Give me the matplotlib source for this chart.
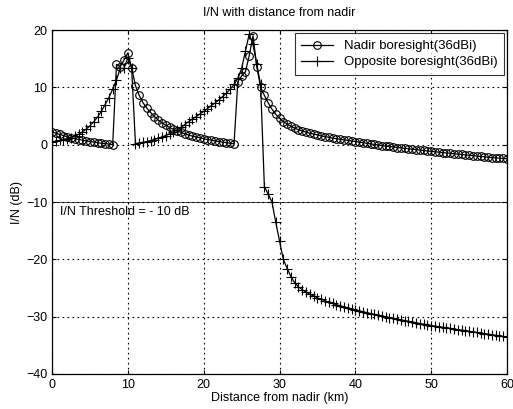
import numpy as np
import matplotlib
matplotlib.use("Agg")
import matplotlib.pyplot as plt

plt.rcParams['font.family'] = ['Liberation Sans', 'DejaVu Sans']

# distance samples (km), every 0.5 km from 0 to 60
distance = np.arange(0, 60.5, 0.5)

# nadir boresight (36dBi), I/N in dB
nadir = [
    2.2, 2.0, 1.8, 1.6, 1.4, 1.2, 1.05, 0.9, 0.8, 0.65,
    0.55, 0.45, 0.35, 0.25, 0.2, 0.1, 0.0, 14.0, 13.6, 14.8,
    16.0, 13.4, 10.3, 8.6, 7.3, 6.4, 5.6, 4.9, 4.3, 3.8,
    3.4, 3.0, 2.7, 2.4, 2.15, 1.9, 1.7, 1.5, 1.35, 1.2,
    1.05, 0.9, 0.8, 0.65, 0.55, 0.45, 0.35, 0.25, 0.15, 11.0,
    12.0, 12.7, 15.5, 19.0, 13.6, 10.0, 8.6, 7.3, 6.2, 5.3,
    4.6, 4.0, 3.6, 3.2, 2.9, 2.6, 2.4, 2.2, 2.0, 1.85,
    1.7, 1.55, 1.4, 1.3, 1.15, 1.05, 0.95, 0.85, 0.75, 0.65,
    0.55, 0.45, 0.35, 0.25, 0.15, 0.05, -0.05, -0.15, -0.25, -0.3,
    -0.4, -0.5, -0.55, -0.65, -0.7, -0.8, -0.85, -0.95, -1.0, -1.1,
    -1.15, -1.25, -1.3, -1.4, -1.45, -1.5, -1.6, -1.65, -1.7, -1.8,
    -1.85, -1.9, -2.0, -2.05, -2.1, -2.2, -2.25, -2.3, -2.35, -2.4,
    -2.45,
]

# opposite boresight (36dBi), I/N in dB
opposite = [
    0.5, 0.6, 0.75, 0.9, 1.05, 1.25, 1.5, 1.8, 2.2, 2.7,
    3.3, 4.0, 4.8, 5.8, 7.0, 8.2, 9.7, 11.3, 13.3, 13.3,
    15.2, 13.3, 0.2, 0.3, 0.4, 0.55, 0.7, 0.9, 1.1, 1.35,
    1.6, 1.9, 2.2, 2.6, 3.0, 3.5, 4.0, 4.45, 4.9, 5.35,
    5.8, 6.3, 6.8, 7.3, 7.8, 8.4, 9.0, 9.7, 10.5, 11.6,
    13.3, 16.3, 19.3, 17.5, 14.0, 10.5, -7.3, -8.6, -10.0, -13.5,
    -16.8, -20.0, -21.6, -23.0, -24.1, -24.8, -25.3, -25.7, -26.1, -26.4,
    -26.7, -27.0, -27.2, -27.5, -27.7, -27.9, -28.1, -28.3, -28.5, -28.7,
    -28.85, -29.0, -29.15, -29.3, -29.45, -29.6, -29.75, -29.9, -30.0, -30.15,
    -30.3, -30.4, -30.55, -30.7, -30.8, -30.95, -31.05, -31.2, -31.3, -31.4,
    -31.55, -31.65, -31.75, -31.85, -31.95, -32.05, -32.15, -32.25, -32.35, -32.45,
    -32.55, -32.65, -32.75, -32.85, -32.95, -33.05, -33.15, -33.25, -33.35, -33.45,
    -33.55,
]

threshold = -10

fig = plt.figure(figsize=(5.13, 4.09), dpi=100)
ax = fig.add_axes([0.1014, 0.0856, 0.887, 0.841])

ax.plot(distance, nadir, color='k', lw=0.9, marker='o', ms=5.5,
        mfc='none', mec='k', mew=0.8, label='Nadir boresight(36dBi)')
ax.plot(distance, opposite, color='k', lw=0.9, marker='+', ms=7,
        mew=0.8, label='Opposite boresight(36dBi)')
ax.axhline(threshold, color='k', lw=0.5)
ax.text(1.0, -12.2, 'I/N Threshold = - 10 dB', fontsize=9)

ax.set_xlim(0, 60)
ax.set_ylim(-40, 20)
ax.set_xticks(range(0, 61, 10))
ax.set_yticks(range(-40, 21, 10))
ax.grid(True, color='k', ls=(0, (1.5, 3)), lw=0.8)
ax.tick_params(direction='in', top=True, right=True, labelsize=9, length=3)
for sp in ax.spines.values():
    sp.set_linewidth(0.9)

ax.set_title('I/N with distance from nadir', fontsize=9, pad=10)
ax.set_xlabel('Distance from nadir (km)', fontsize=9, labelpad=1)
ax.set_ylabel('I/N (dB)', fontsize=9, labelpad=2)

leg = ax.legend(loc='upper right', fontsize=9.5, frameon=True, fancybox=False,
                edgecolor='k', borderpad=0.5, handlelength=2.4,
                labelspacing=0.3, borderaxespad=0.25)
leg.get_frame().set_linewidth(0.8)

fig.savefig('out.png', dpi=100)
